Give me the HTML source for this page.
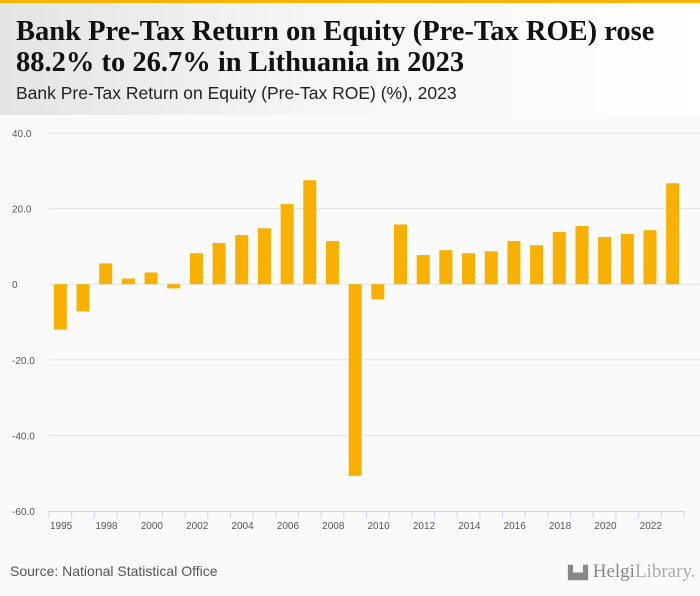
<!DOCTYPE html>
<html><head><meta charset="utf-8"><style>
body{margin:0;width:700px;height:596px;overflow:hidden;background:#fafafa;font-family:"Liberation Sans",sans-serif;}
#top{position:absolute;left:0;top:0;width:700px;height:3px;background:#f5b400;}
#head{position:absolute;left:0;top:3px;width:700px;height:112px;background:linear-gradient(90deg,#e4e4e4 0%,#f6f6f6 45%,#ffffff 100%);}
#title{position:absolute;left:16px;top:13px;font-family:"Liberation Serif",serif;font-weight:bold;font-size:28.5px;line-height:31px;color:#111;white-space:nowrap;}
#sub{position:absolute;left:16px;top:80px;font-size:17.5px;color:#222;white-space:nowrap;}
#src{position:absolute;left:10px;top:563px;font-size:14px;color:#555;white-space:nowrap;}
#logo{position:absolute;left:568px;top:561px;font-family:"Liberation Serif",serif;font-size:19px;color:#888;white-space:nowrap;}
svg{position:absolute;left:0;top:0;}
</style></head><body>
<div id="top"></div>
<div id="head">
<div id="title">Bank Pre-Tax Return on Equity (Pre-Tax ROE) rose<br>88.2% to 26.7% in Lithuania in 2023</div>
<div id="sub">Bank Pre-Tax Return on Equity (Pre-Tax ROE) (%), 2023</div>
</div>
<svg id="chart" width="700" height="596"></svg>
<div id="src">Source: National Statistical Office</div>
<div id="logo"><span style="font-size:13px;font-family:'DejaVu Sans',sans-serif">▙▟</span> Helgi<span style="color:#aaa">Library.</span></div>
<script>
const years=[1996,1997,1998,1999,2000,2001,2002,2003,2004,2005,2006,2007,2008,2009,2010,2011,2012,2013,2014,2015,2016,2017,2018,2019,2020,2021,2022,2023];
const values=[-12,-7.2,5.5,1.5,3.1,-1.1,8.2,10.9,13,14.8,21.2,27.5,11.4,-50.7,-4.0,15.8,7.7,9,8.2,8.7,11.4,10.3,13.8,15.4,12.5,13.3,14.3,26.7];
const yTicks=[40,20,0,-20,-40,-60];
const yTickLabels=["40.0","20.0","0","-20.0","-40.0","-60.0"];
const xLabels=["1995","1998","2000","2002","2004","2006","2008","2010","2012","2014","2016","2018","2020","2022"];
const xLabelTick=[0,2,4,6,8,10,12,14,16,18,20,22,24,26];
const NS="http://www.w3.org/2000/svg";
const svg=document.getElementById('chart');
const x0=49,x1=684,y0=133,y1=511,vmin=-60,vmax=40;
const step=(x1-x0)/years.length;
function y(v){return y0+(vmax-v)/(vmax-vmin)*(y1-y0);}
function tx(i){return x0+i*step;}
function mk(t,a){const e=document.createElementNS(NS,t);for(const k in a)e.setAttribute(k,a[k]);svg.appendChild(e);return e;}
yTicks.forEach((v,i)=>{
  if(v!==-60){const g=mk('line',{x1:x0,x2:700,y1:y(v),y2:y(v),stroke:'#e3e3e3','stroke-width':1});
  
  }
  const t=mk('text',{x:12,y:y(v)+4,'font-size':10,fill:'#555','font-family':'Liberation Sans, sans-serif'});
  t.textContent=yTickLabels[i];
  
  
});
values.forEach((v,i)=>{
  const cx=tx(i+0.5),w=13;
  const r=mk('rect',{x:cx-w/2,y:Math.min(y(v),y(0)),width:w,height:Math.abs(y(v)-y(0)),fill:'#f8b100'});
  
  
});
const ax=mk('line',{x1:x0,x2:x1,y1:y1+0.5,y2:y1+0.5,stroke:'#c8d4ea','stroke-width':1});


for(let i=0;i<=years.length;i++){
  const t=mk('line',{x1:tx(i),x2:tx(i),y1:y1,y2:y1+7,stroke:'#c8d4ea','stroke-width':1});
  
  
}
xLabels.forEach((l,j)=>{
  const t=mk('text',{x:tx(xLabelTick[j])+1,y:y1+18,'font-size':10,fill:'#555','font-family':'Liberation Sans, sans-serif'});
  t.textContent=l;
  
  
});
</script>
</body></html>
